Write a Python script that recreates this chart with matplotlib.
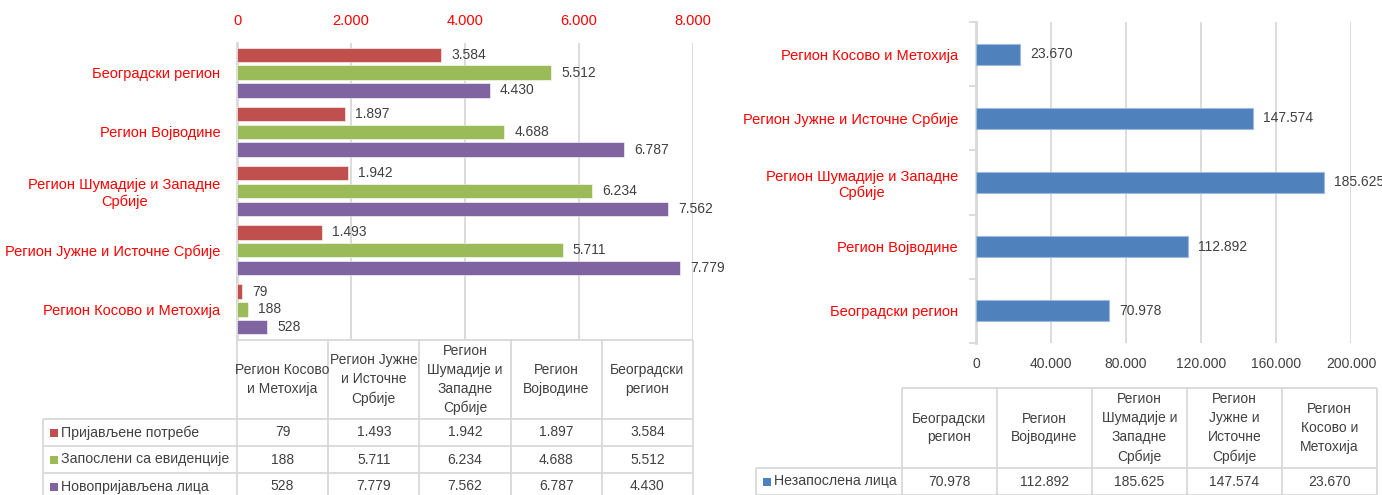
import numpy as np
import matplotlib
matplotlib.use('Agg')
import matplotlib.pyplot as plt

plt.rcParams['font.family'] = ['Liberation Sans Narrow', 'Liberation Sans', 'DejaVu Sans']

# --- data -------------------------------------------------------------
regions = ['Регион Косово и Метохија', 'Регион Јужне и Источне Србије',
           'Регион Шумадије и Западне Србије', 'Регион Војводине', 'Београдски регион']
region_ticks = ['Регион Косово и Метохија', 'Регион Јужне и Источне Србије',
                'Регион Шумадије и Западне\nСрбије', 'Регион Војводине', 'Београдски регион']
region_heads = ['Регион Косово\nи Метохија', 'Регион Јужне\nи Источне\nСрбије',
                'Регион\nШумадије и\nЗападне\nСрбије', 'Регион\nВојводине', 'Београдски\nрегион']
series_names = ['Пријављене потребе', 'Запослени са евиденције', 'Новопријављена лица']
prijavljene = [79, 1493, 1942, 1897, 3584]
zaposleni = [188, 5711, 6234, 4688, 5512]
novoprijavljeni = [528, 7779, 7562, 6787, 4430]
series_colors = ['#C0504D', '#9BBB59', '#8064A2']

regions_r = ['Београдски регион', 'Регион Војводине', 'Регион Шумадије и Западне Србије',
             'Регион Јужне и Источне Србије', 'Регион Косово и Метохија']
region_ticks_r = ['Београдски регион', 'Регион Војводине', 'Регион Шумадије и Западне\nСрбије',
                  'Регион Јужне и Источне Србије', 'Регион Косово и Метохија']
region_heads_r = ['Београдски\nрегион', 'Регион\nВојводине', 'Регион\nШумадије и\nЗападне\nСрбије',
                  'Регион\nЈужне и\nИсточне\nСрбије', 'Регион\nКосово и\nМетохија']
nezaposleni_name = 'Незапослена лица'
nezaposleni = [70978, 112892, 185625, 147574, 23670]

W, H = 1382, 495
GRID = '#D9D9D9'
TXT = '#404040'
RED = '#FF0000'


def fmt(v):
    return f'{v:,}'.replace(',', '.')


def px_axes(x0, y0, x1, y1):
    # axes placed by pixel box (top-left origin)
    return fig.add_axes([x0 / W, 1 - y1 / H, (x1 - x0) / W, (y1 - y0) / H])


fig = plt.figure(figsize=(W / 100, H / 100), dpi=100)

# --- left chart: three series per region ----------------------------
ax = px_axes(237, 43, 693, 339)
y = np.arange(len(regions))
slot = 0.30
bar_h = 0.245
for k, (vals, col) in enumerate(zip([prijavljene, zaposleni, novoprijavljeni], series_colors)):
    pos = y + slot * (1 - k)
    ax.barh(pos, vals, height=bar_h, color=col, edgecolor='white', linewidth=0.4, zorder=3)
    for p, v in zip(pos, vals):
        ax.text(v + 180, p, fmt(v), va='center', ha='left', fontsize=10, color=TXT)
ax.set_xlim(0, 8000)
ax.set_ylim(-0.5, len(regions) - 0.5)
ax.set_xticks(np.arange(0, 8001, 2000))
ax.set_xticklabels([fmt(t) for t in range(0, 8001, 2000)])
ax.xaxis.tick_top()
ax.tick_params(axis='x', length=0, pad=11, labelsize=10.5, labelcolor=RED)
ax.set_yticks(y)
ax.set_yticklabels(region_ticks, multialignment='center')
ax.tick_params(axis='y', length=0, pad=12, labelsize=10.5, labelcolor=RED)
ax.grid(axis='x', color=GRID, linewidth=1.3, zorder=0)
for s in ['top', 'right', 'bottom']:
    ax.spines[s].set_visible(False)
ax.spines['left'].set_color(GRID)
ax.spines['left'].set_linewidth(2)

# --- right chart: unemployed -----------------------------------------
ax2 = px_axes(976, 22, 1351, 343)
y2 = np.arange(len(regions_r))
ax2.barh(y2, nezaposleni, height=0.33, color='#4F81BD', edgecolor='#9DB9DE', linewidth=0.8, zorder=3)
for p, v in zip(y2, nezaposleni):
    ax2.text(v + 5500, p, fmt(v), va='center', ha='left', fontsize=10, color=TXT)
ax2.set_xlim(0, 200000)
ax2.set_ylim(-0.5, len(regions_r) - 0.5)
ax2.set_xticks(np.arange(0, 200001, 40000))
ax2.set_xticklabels([fmt(t) for t in range(0, 200001, 40000)])
ax2.tick_params(axis='x', length=0, pad=10, labelsize=10, labelcolor=TXT)
ax2.set_yticks(y2)
ax2.set_yticklabels(region_ticks_r, multialignment='center')
ax2.tick_params(axis='y', length=0, pad=13, labelsize=10.5, labelcolor=RED)
ax2.set_yticks(np.arange(-0.5, len(regions_r)), minor=True)
ax2.tick_params(axis='y', which='minor', length=5, width=1.3, color=GRID)
ax2.grid(axis='x', color=GRID, linewidth=1.3, zorder=0)
for s in ['top', 'right', 'bottom']:
    ax2.spines[s].set_visible(False)
ax2.spines['left'].set_color(GRID)
ax2.spines['left'].set_linewidth(2)

# --- data tables (drawn in pixel coordinates) -------------------------
tab = fig.add_axes([0, 0, 1, 1], zorder=5)
tab.set_xlim(0, W)
tab.set_ylim(H, 0)
tab.axis('off')


def draw_table(col_x, leg_x, head_top, head_bot, row_h, n_rows, heads, names, colors, rows):
    bottom = head_bot + row_h * n_rows
    lw = 1.3
    tab.hlines(head_top, col_x[0], col_x[-1], color=GRID, lw=lw)
    for r in range(n_rows + 1):
        tab.hlines(head_bot + r * row_h, leg_x, col_x[-1], color=GRID, lw=lw)
    for cx in col_x:
        tab.vlines(cx, head_top, bottom, color=GRID, lw=lw)
    tab.vlines(leg_x, head_bot, bottom, color=GRID, lw=lw)
    for j, h in enumerate(heads):
        cx = (col_x[j] + col_x[j + 1]) / 2
        tab.text(cx, (head_top + head_bot) / 2, h, ha='center', va='center',
                 fontsize=10, color=TXT, linespacing=1.45)
    for r, (name, col, vals) in enumerate(zip(names, colors, rows)):
        cy = head_bot + (r + 0.5) * row_h
        tab.add_patch(plt.Rectangle((leg_x + 7, cy - 4), 8, 8, color=col, lw=0))
        tab.text(leg_x + 18, cy, name, ha='left', va='center', fontsize=10.2, color=TXT)
        for j, v in enumerate(vals):
            cx = (col_x[j] + col_x[j + 1]) / 2
            tab.text(cx, cy, fmt(v), ha='center', va='center', fontsize=10, color=TXT)


draw_table(np.linspace(237, 693, 6), 43, 340, 419, 27, 3, region_heads, series_names,
           series_colors, [prijavljene, zaposleni, novoprijavljeni])
draw_table(np.linspace(902, 1377, 6), 756, 388, 468, 27, 1, region_heads_r, [nezaposleni_name],
           ['#4F81BD'], [nezaposleni])

fig.savefig('out.png', dpi=100)
